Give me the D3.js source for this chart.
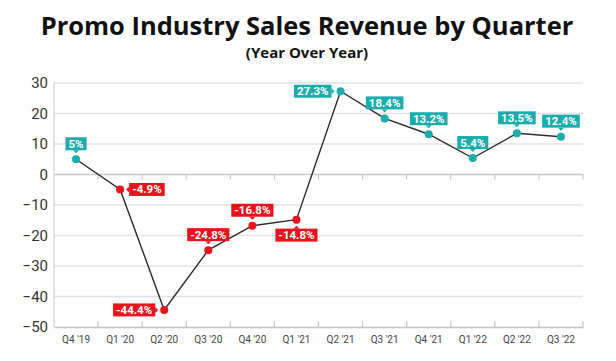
<!DOCTYPE html>
<html>
<head>
<meta charset="utf-8">
<script src="https://cdn.jsdelivr.net/npm/d3@7"></script>
<style>
  body { margin: 0; background: #fff; }
  svg { display: block; }
</style>
</head>
<body>
<script>
// quarters and YoY change (%)
let quarters = ["Q4 '19", "Q1 '20", "Q2 '20", "Q3 '20", "Q4 '20", "Q1 '21",
                "Q2 '21", "Q3 '21", "Q4 '21", "Q1 '22", "Q2 '22", "Q3 '22"];
let values = [5, -4.9, -44.4, -24.8, -16.8, -14.8, 27.3, 18.4, 13.2, 5.4, 13.5, 12.4];
let labels = ["5%", "-4.9%", "-44.4%", "-24.8%", "-16.8%", "-14.8%",
              "27.3%", "18.4%", "13.2%", "5.4%", "13.5%", "12.4%"];
// where each callout sits relative to its point
let placement = ["top", "right", "left", "top", "top", "bottom",
                 "left", "top", "top", "top", "top", "top"];
let yTicks = [30, 20, 10, 0, -10, -20, -30, -40, -50];

let W = 616, H = 361;
let margin = {top: 83, right: 33, bottom: 34, left: 54},
    width = W - margin.left - margin.right,
    height = H - margin.top - margin.bottom;

let teal = "#1badad", red = "#e8131b";

let svg = d3.select("body").append("svg")
    .attr("width", W)
    .attr("height", H);

svg.append("text")
    .attr("x", 307).attr("y", 35)
    .attr("text-anchor", "middle")
    .style("font-family", "'Open Sans', sans-serif")
    .style("font-weight", 700)
    .style("font-size", "25.5px")
    .attr("fill", "#111")
    .text("Promo Industry Sales Revenue by Quarter");

svg.append("text")
    .attr("x", 307).attr("y", 58)
    .attr("text-anchor", "middle")
    .style("font-family", "'Open Sans', sans-serif")
    .style("font-weight", 700)
    .style("font-size", "15px")
    .attr("fill", "#111")
    .text("(Year Over Year)");

let g = svg.append("g")
    .attr("transform", "translate(" + margin.left + "," + margin.top + ")");

let x = d3.scaleBand().domain(quarters).range([0, width]);
let y = d3.scaleLinear().domain([-50, 30]).range([height, 0]);

// gridlines
g.selectAll(".grid")
    .data(yTicks.filter(d => d != -50))
    .enter().append("line")
    .attr("x1", 0).attr("x2", width)
    .attr("y1", d => y(d)).attr("y2", d => y(d))
    .attr("stroke", d => d == 0 ? "#c8c8c8" : "#e2e2e2")
    .attr("stroke-width", 1.5);

// left & bottom axis lines
g.append("line")
    .attr("x1", 0).attr("x2", 0).attr("y1", 0).attr("y2", height)
    .attr("stroke", "#d8d8d8").attr("stroke-width", 1.5);

let yAxis = d3.axisLeft(y).tickValues(yTicks).tickSize(0).tickPadding(6);
g.append("g").call(yAxis)
    .call(a => a.select(".domain").remove())
    .selectAll("text")
    .style("font-family", "Roboto, sans-serif")
    .style("font-size", "15px")
    .attr("fill", "#333");

let xAxis = d3.axisBottom(x).tickSize(0).tickPadding(9);
let xa = g.append("g")
    .attr("transform", "translate(0," + height + ")")
    .call(xAxis);
xa.select(".domain").attr("stroke", "#c4c4c4").attr("stroke-width", 1.5);
xa.selectAll("text")
    .style("font-family", "Roboto, sans-serif")
    .style("font-size", "10px")
    .attr("fill", "#444");

// band boundary ticks (under zero line and above bottom line)
let bounds = quarters.slice(1).map(q => x(q)).concat([width]);
g.selectAll(".ztick").data(bounds).enter().append("line")
    .attr("x1", d => d).attr("x2", d => d)
    .attr("y1", y(0)).attr("y2", y(0) + 5)
    .attr("stroke", "#c8c8c8").attr("stroke-width", 1.2);
g.selectAll(".btick").data(bounds).enter().append("line")
    .attr("x1", d => d).attr("x2", d => d)
    .attr("y1", height).attr("y2", height - 6)
    .attr("stroke", "#c8c8c8").attr("stroke-width", 1.2);

let cx = d => x(d) + x.bandwidth() / 2;

let line = d3.line()
    .x((d, i) => cx(quarters[i]))
    .y(d => y(d));

g.append("path")
    .datum(values)
    .attr("d", line)
    .attr("fill", "none")
    .attr("stroke", "#2a2a2a")
    .attr("stroke-width", 1.4);

g.selectAll(".pt")
    .data(values)
    .enter().append("circle")
    .attr("cx", (d, i) => cx(quarters[i]))
    .attr("cy", d => y(d))
    .attr("r", 4)
    .attr("fill", d => d >= 0 ? teal : red);

// callouts
let boxH = 13, gap = 6, arrow = 3;
values.forEach((v, i) => {
  let px = cx(quarters[i]), py = y(v);
  let col = v >= 0 ? teal : red;
  let lg = g.append("g");
  let t = lg.append("text")
      .style("font-family", "Roboto, sans-serif")
      .style("font-weight", 700)
      .style("font-size", "11.5px")
      .attr("fill", "#fff")
      .attr("text-anchor", "middle")
      .text(labels[i]);
  let tw = t.node().getComputedTextLength();
  let bw = tw + 6;
  let bx, by, tri;
  let p = placement[i];
  if (p == "top") {
    bx = px - bw / 2; by = py - gap - arrow - boxH;
    tri = [[px - 3, by + boxH], [px + 3, by + boxH], [px, by + boxH + arrow]];
  } else if (p == "bottom") {
    bx = px - bw / 2; by = py + gap + arrow;
    tri = [[px - 3, by], [px + 3, by], [px, by - arrow]];
  } else if (p == "left") {
    bx = px - gap - arrow - bw; by = py - boxH / 2;
    tri = [[bx + bw, py - 3], [bx + bw, py + 3], [bx + bw + arrow, py]];
  } else {
    bx = px + gap + arrow; by = py - boxH / 2;
    tri = [[bx, py - 3], [bx, py + 3], [bx - arrow, py]];
  }
  lg.insert("rect", "text")
      .attr("x", bx).attr("y", by)
      .attr("width", bw).attr("height", boxH)
      .attr("fill", col);
  lg.insert("path", "text")
      .attr("d", d3.line()(tri) + "Z")
      .attr("fill", col);
  t.attr("x", bx + bw / 2).attr("y", by + boxH - 2.5);
});
</script>
</body>
</html>
